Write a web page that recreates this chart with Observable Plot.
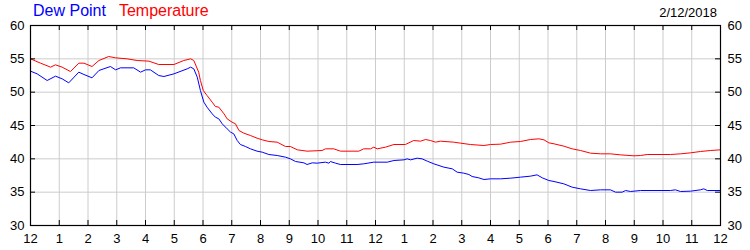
<!DOCTYPE html>
<html>
<head>
<meta charset="utf-8">
<script src="https://cdn.jsdelivr.net/npm/d3@7"></script>
<script src="https://cdn.jsdelivr.net/npm/@observablehq/plot@0.6"></script>
<style>
  html, body { margin: 0; padding: 0; background: #fff; }
  #wrap { position: relative; width: 750px; height: 250px; font-family: "Liberation Sans", Arial, sans-serif; }
  #hdr { position: absolute; left: 33px; top: 2px; font-size: 16px; white-space: nowrap; }
  #hdr .dew { color: #0000ff; }
  #hdr .tmp { color: #ff0000; margin-left: 13px; }
  #date { position: absolute; right: 33px; top: 5px; font-size: 13px; color: #000; }
  svg { display: block; }
</style>
</head>
<body>
<div id="wrap">
  <div id="hdr"><span class="dew">Dew Point</span><span class="tmp">Temperature</span></div>
  <div id="date">2/12/2018</div>
  <div id="chart"></div>
</div>
<script>
const seriesNames = ["Dew Point", "Temperature"];
const seriesColors = ["#0000ff", "#ff0000"];
const dateLabel = "2/12/2018";

const hourTicks = d3.range(0, 25);
const yTicks = [30, 35, 40, 45, 50, 55, 60];

const tempHours = [0,0.35,0.70,0.87,1.10,1.39,1.68,1.86,2.14,2.38,2.72,2.96,3.36,3.71,4.12,4.46,4.99,5.33,5.57,5.68,5.85,5.91,6.01,6.14,6.32,6.43,6.55,6.73,6.84,7.01,7.13,7.25,7.42,7.65,7.88,8.06,8.29,8.58,8.87,9.04,9.28,9.62,10.14,10.26,10.55,10.78,11.42,11.59,11.83,11.94,12.06,12.35,12.64,13.04,13.33,13.57,13.74,13.91,14.09,14.26,14.72,14.96,15.30,15.77,16.0,16.35,16.70,17.04,17.39,17.68,17.86,18.03,18.21,18.55,18.84,19.13,19.48,19.83,20.17,20.52,20.99,21.22,21.45,22.26,22.61,22.96,23.30,23.65,24.0];
const tempValues = [55.0,54.35,53.75,54.1,53.75,53.1,54.35,54.35,53.85,54.75,55.35,55.15,55.0,54.75,54.65,54.15,54.15,54.75,55.0,54.75,53.0,51.75,50.25,49.5,48.5,47.85,47.75,46.75,46.0,45.5,45.25,44.25,43.85,43.5,43.1,42.85,42.6,42.5,41.85,41.85,41.35,41.15,41.25,41.5,41.5,41.15,41.15,41.5,41.5,41.75,41.5,41.75,42.15,42.15,42.75,42.65,42.9,42.75,42.5,42.65,42.5,42.35,42.15,42.0,42.15,42.2,42.5,42.6,42.9,43.0,42.85,42.4,42.25,41.9,41.5,41.25,40.85,40.75,40.75,40.6,40.45,40.5,40.65,40.65,40.75,40.9,41.1,41.25,41.35];

const dewHours = [0,0.23,0.58,0.87,1.10,1.33,1.68,1.86,2.14,2.38,2.78,2.96,3.13,3.59,3.83,4.0,4.17,4.46,4.64,4.99,5.45,5.57,5.68,5.80,5.91,6.03,6.14,6.32,6.43,6.55,6.67,6.84,6.96,7.07,7.19,7.30,7.48,7.65,7.88,8.06,8.29,8.58,8.87,9.04,9.22,9.51,9.62,9.80,9.97,10.26,10.38,10.43,10.61,10.78,11.36,11.59,11.94,12.41,12.64,12.99,13.10,13.22,13.45,13.62,13.80,14.03,14.38,14.67,14.84,15.07,15.25,15.36,15.59,15.77,16.0,16.35,16.70,17.04,17.39,17.62,17.80,18.03,18.21,18.55,18.84,19.13,19.48,19.83,20.17,20.35,20.58,20.70,20.87,21.22,22.26,22.43,22.61,22.96,23.30,23.42,23.54,24.0];
const dewValues = [53.15,52.75,51.75,52.4,52.0,51.4,53.0,52.65,52.15,53.25,53.85,53.35,53.65,53.65,53.0,53.35,53.35,52.5,52.35,52.75,53.5,53.75,53.5,52.25,50.25,48.5,47.75,46.75,46.25,46.0,45.25,44.5,44.0,43.75,42.75,42.15,41.85,41.5,41.15,41.0,40.65,40.5,40.25,40.0,39.6,39.4,39.15,39.4,39.35,39.5,39.35,39.6,39.35,39.15,39.15,39.25,39.5,39.5,39.75,39.85,40.0,39.85,40.1,40.0,39.65,39.25,38.75,38.5,38.0,37.85,37.65,37.35,37.15,36.9,37.0,37.0,37.1,37.25,37.4,37.6,37.15,36.75,36.6,36.25,35.75,35.5,35.25,35.35,35.35,35.0,35.0,35.25,35.1,35.25,35.25,35.35,35.1,35.15,35.35,35.5,35.25,35.25];

const temp = tempHours.map((h, i) => ({h, v: tempValues[i]}));
const dew = dewHours.map((h, i) => ({h, v: dewValues[i]}));

const hourLabel = h => String(h % 12 === 0 ? 12 : h % 12);
const tickLenX = 5 / 28.75;   // 5px in hours
const tickLenY = 5 / (200 / 30); // 5px in degrees

const chart = Plot.plot({
  width: 750,
  height: 250,
  marginTop: 25,
  marginBottom: 25,
  marginLeft: 30,
  marginRight: 30,
  style: {fontFamily: "'Liberation Sans', Arial, sans-serif", fontSize: "13px", color: "#000", background: "#fff"},
  x: {domain: [0, 24], axis: null},
  y: {domain: [30, 60], axis: null},
  marks: [
    Plot.ruleX(hourTicks.slice(1, -1), {x: d => d, stroke: "#cccccc", strokeOpacity: 1}),
    Plot.ruleY(yTicks.slice(1, -1), {y: d => d, stroke: "#cccccc", strokeOpacity: 1}),
    Plot.line(dew, {x: "h", y: "v", stroke: seriesColors[0], strokeWidth: 1}),
    Plot.line(temp, {x: "h", y: "v", stroke: seriesColors[1], strokeWidth: 1}),
    Plot.frame({stroke: "#000", strokeWidth: 1.2}),
    Plot.ruleX(hourTicks, {x: d => d, y1: 30, y2: 30 + tickLenY, stroke: "#000"}),
    Plot.ruleX(hourTicks, {x: d => d, y1: 60 - tickLenY, y2: 60, stroke: "#000"}),
    Plot.ruleY(yTicks, {y: d => d, x1: 0, x2: tickLenX, stroke: "#000"}),
    Plot.ruleY(yTicks, {y: d => d, x1: 24 - tickLenX, x2: 24, stroke: "#000"}),
    Plot.axisX({ticks: hourTicks, tickFormat: hourLabel, tickSize: 0, tickPadding: 8, anchor: "bottom", label: null, fontSize: 13}),
    Plot.axisY({ticks: yTicks, tickSize: 0, tickPadding: 6, anchor: "left", label: null, fontSize: 13}),
    Plot.axisY({ticks: yTicks, tickSize: 0, tickPadding: 7, anchor: "right", label: null, fontSize: 13})
  ]
});
document.getElementById("chart").appendChild(chart);
</script>
</body>
</html>
